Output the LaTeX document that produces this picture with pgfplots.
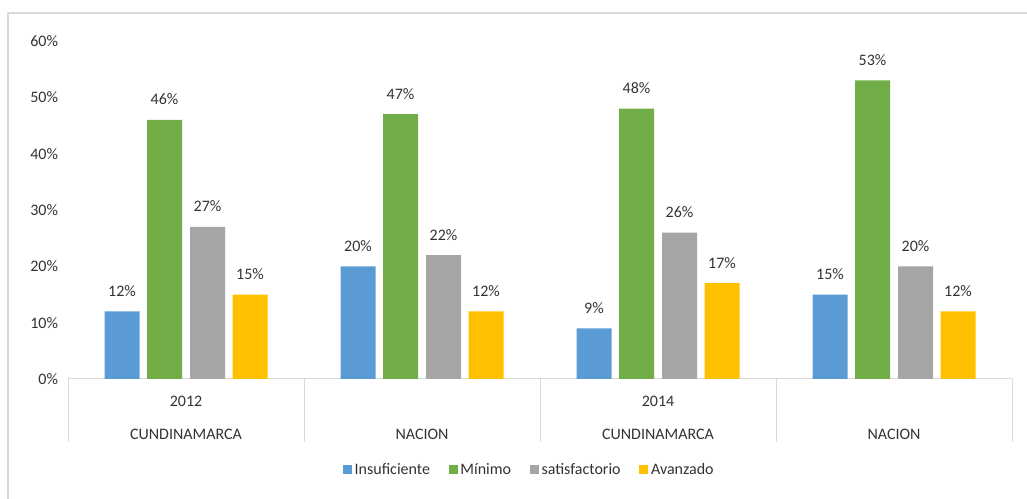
\documentclass[border=0pt]{standalone}
\usepackage{fontspec}
\setmainfont{Carlito}
\usepackage{pgfplots}
\pgfplotsset{compat=1.18}

\definecolor{cBlue}{HTML}{5B9BD5}
\definecolor{cGreen}{HTML}{70AD47}
\definecolor{cGray}{HTML}{A5A5A5}
\definecolor{cYellow}{HTML}{FFC000}
\definecolor{cLine}{HTML}{D9D9D9}
\definecolor{cText}{HTML}{333333}

\begin{document}
\begin{tikzpicture}
\begin{axis}[
  at={(0,0)}, anchor=south west,
  scale only axis, width=708pt, height=253.5pt,
  ybar, bar width=26.25pt,
  xmin=-0.5, xmax=3.5, ymin=0, ymax=60,
  axis x line*=bottom, axis y line*=left,
  x axis line style={draw=cLine, line width=0.75pt},
  y axis line style={draw=none},
  ytick={0,10,...,60}, ytick style={draw=none},
  yticklabel={\pgfmathprintnumber{\tick}\%},
  /pgf/number format/assume math mode=true,
  yticklabel style={font=\fontsize{12}{14}\selectfont, text=cText, xshift=-4pt},
  xtick={0,1,2,3}, major tick length=0pt,
  xticklabels={{2012\\[11pt]CUNDINAMARCA},{\phantom{2012}\\[11pt]NACION},{2014\\[11pt]CUNDINAMARCA},{\phantom{2014}\\[11pt]NACION}},
  xticklabel style={align=center, font=\fontsize{12}{14}\selectfont, text=cText, yshift=-9pt},
  extra x ticks={-0.5,0.5,1.5,2.5,3.5}, extra x tick labels={},
  extra x tick style={major tick length=47.25pt, tick align=outside,
    tick style={draw=cLine, line width=0.75pt}},
  nodes near coords={\pgfmathprintnumber{\pgfplotspointmeta}\%},
  every node near coord/.append style={font=\fontsize{12}{14}\selectfont, text=cText, inner sep=0pt, yshift=11pt},
  legend columns=4,
  legend style={draw=none, at={(0.489,-0.269)}, anchor=center,
    font=\fontsize{12}{14}\selectfont, text=cText,
    /tikz/every even column/.append style={column sep=12pt}},
  legend image code/.code={\fill[#1] (0pt,-3.4pt) rectangle (6.8pt,3.4pt);},
]
\addplot[fill=cBlue, draw=none, bar shift=-48pt] coordinates {(0,12) (1,20) (2,9) (3,15)};
\addplot[fill=cGreen, draw=none, bar shift=-16.125pt] coordinates {(0,46) (1,47) (2,48) (3,53)};
\addplot[fill=cGray, draw=none, bar shift=16.125pt] coordinates {(0,27) (1,22) (2,26) (3,20)};
\addplot[fill=cYellow, draw=none, bar shift=48pt] coordinates {(0,15) (1,12) (2,17) (3,12)};
\legend{Insuficiente, Mínimo, satisfactorio, Avanzado}
\end{axis}
\draw[cLine, line width=1.5pt] (-45pt,-90pt) -- (-45pt,274.5pt) -- (719.25pt,274.5pt);
\pgfresetboundingbox
\useasboundingbox (-51pt,-90pt) rectangle (719.25pt,284.25pt);
\end{tikzpicture}
\end{document}
